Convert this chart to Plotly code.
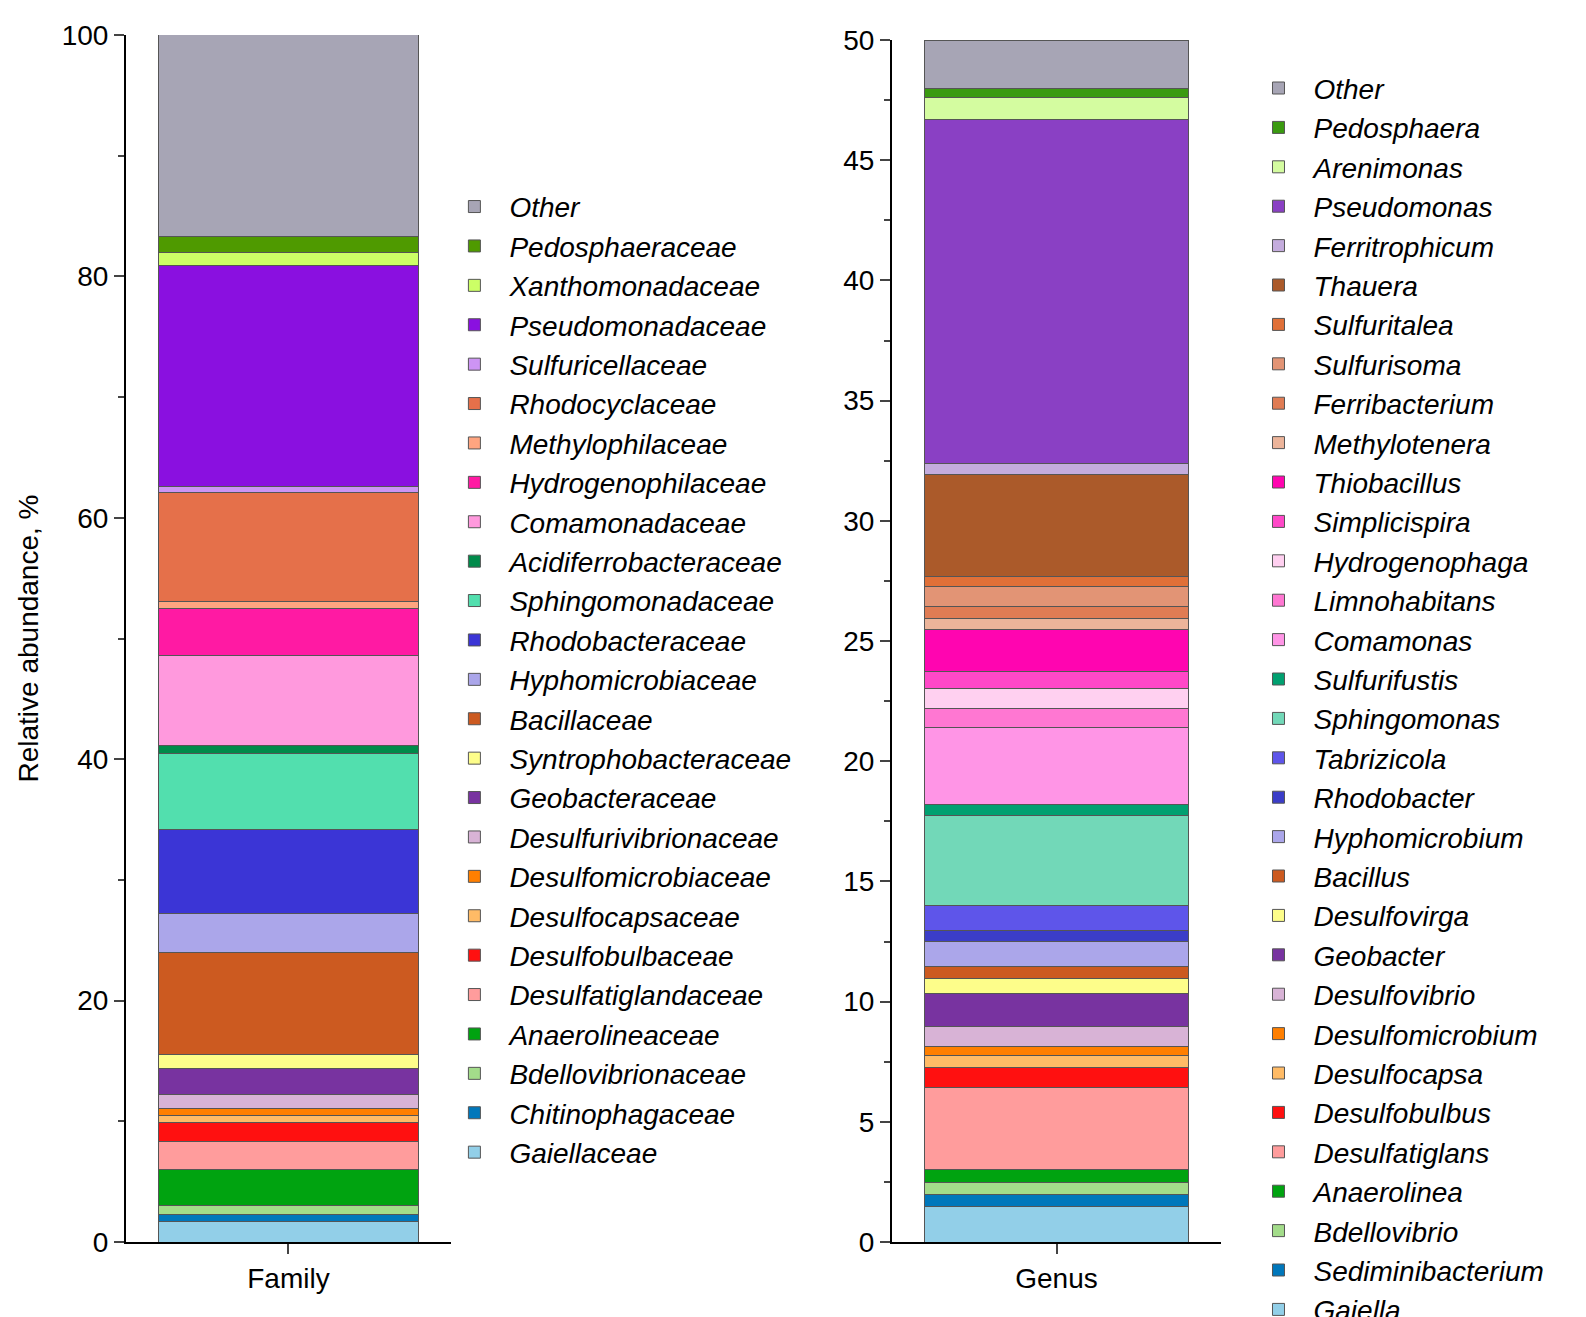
import plotly.graph_objects as go

# family: names bottom->top, cumulative top boundaries
fam_names = ['Gaiellaceae', 'Chitinophagaceae', 'Bdellovibrionaceae', 'Anaerolineaceae',
             'Desulfatiglandaceae', 'Desulfobulbaceae', 'Desulfocapsaceae', 'Desulfomicrobiaceae',
             'Desulfurivibrionaceae', 'Geobacteraceae', 'Syntrophobacteraceae', 'Bacillaceae',
             'Hyphomicrobiaceae', 'Rhodobacteraceae', 'Sphingomonadaceae', 'Acidiferrobacteraceae',
             'Comamonadaceae', 'Hydrogenophilaceae', 'Methylophilaceae', 'Rhodocyclaceae',
             'Sulfuricellaceae', 'Pseudomonadaceae', 'Xanthomonadaceae', 'Pedosphaeraceae', 'Other']
fam_tops = [1.66, 2.3, 3.0, 6.0, 8.3, 9.9, 10.5, 11.1, 12.2, 14.4, 15.5, 24.0, 27.2, 34.2,
            40.5, 41.1, 48.6, 52.5, 53.1, 62.1, 62.6, 80.9, 82.0, 83.3, 100.0]
fam_colors = ['#92cfe8', '#0077bb', '#a3dc8a', '#00a310', '#ff9c9c', '#ff1010', '#ffbb66',
              '#ff7f00', '#d8b3d6', '#7833a0', '#fdfd8a', '#cc5a20', '#aba6ea', '#3b35d6',
              '#52dfae', '#008a4a', '#ff99dd', '#ff1aa3', '#ffa580', '#e5704a', '#cd94f4',
              '#8a10e0', '#ccff66', '#4f9a00', '#a7a5b5']

gen_names = ['Gaiella', 'Sediminibacterium', 'Bdellovibrio', 'Anaerolinea', 'Desulfatiglans',
             'Desulfobulbus', 'Desulfocapsa', 'Desulfomicrobium', 'Desulfovibrio', 'Geobacter',
             'Desulfovirga', 'Bacillus', 'Hyphomicrobium', 'Rhodobacter', 'Tabrizicola',
             'Sphingomonas', 'Sulfurifustis', 'Comamonas', 'Limnohabitans', 'Hydrogenophaga',
             'Simplicispira', 'Thiobacillus', 'Methylotenera', 'Ferribacterium', 'Sulfurisoma',
             'Sulfuritalea', 'Thauera', 'Ferritrophicum', 'Pseudomonas', 'Arenimonas',
             'Pedosphaera', 'Other']
gen_tops = [1.48, 1.99, 2.47, 3.01, 6.41, 7.26, 7.74, 8.15, 8.97, 10.34, 10.96, 11.47, 12.5,
            12.95, 14.0, 17.74, 18.22, 21.41, 22.19, 23.04, 23.74, 25.48, 25.93, 26.44, 27.26,
            27.7, 31.92, 32.4, 46.7, 47.6, 48.0, 50.0]
gen_colors = ['#92cfe8', '#0077bb', '#a3dc8a', '#00a310', '#ff9c9c', '#ff1010', '#ffbb66',
              '#ff7f00', '#d8b3d6', '#7833a0', '#fdfd8a', '#cc5a20', '#aba6ea', '#3b3dc8',
              '#5e55ea', '#72d8b8', '#00a070', '#ff95e6', '#ff77d2', '#ffd0f0', '#ff48c8',
              '#ff05b0', '#ecb49a', '#e07c54', '#e29475', '#e07038', '#ab5a2a', '#c4acdd',
              '#8a40c4', '#d4fca0', '#3a9a10', '#a7a5b5']


def seg(tops):
    return [t - b for t, b in zip(tops, [0] + tops[:-1])]


fig = go.Figure()
for n, v, c in zip(fam_names, seg(fam_tops), fam_colors):
    fig.add_trace(go.Bar(x=['Family'], y=[v], name=n, marker=dict(color=c, line=dict(color='#555', width=1)),
                         width=0.8, xaxis='x', yaxis='y', legend='legend'))
for n, v, c in zip(gen_names, seg(gen_tops), gen_colors):
    fig.add_trace(go.Bar(x=['Genus'], y=[v], name=n, marker=dict(color=c, line=dict(color='#555', width=1)),
                         width=0.8, xaxis='x2', yaxis='y2', legend='legend2'))

tickfont = dict(family='Liberation Sans, Arial', size=28, color='black')
axline = dict(showline=True, linecolor='black', linewidth=2, ticks='outside', ticklen=10,
              tickwidth=2, tickfont=tickfont, showgrid=False, zeroline=False, automargin=False)
legfont = dict(family='Liberation Sans, Arial', size=28, color='black', style='italic')

fig.update_layout(
    width=1586, height=1317, barmode='stack', plot_bgcolor='white', paper_bgcolor='white',
    margin=dict(l=0, r=0, t=0, b=0, autoexpand=False), showlegend=True,
    xaxis=dict(domain=[0.0744, 0.2793], **axline),
    yaxis=dict(domain=[0.063, 0.9795], range=[0, 100], dtick=20, anchor='x',
               minor=dict(dtick=10, ticks='outside', ticklen=6, tickwidth=2),
               title=dict(text='Relative abundance, %', font=tickfont, standoff=15), **axline),
    xaxis2=dict(domain=[0.5574, 0.7648], anchor='y2', **axline),
    yaxis2=dict(domain=[0.063, 0.9757], range=[0, 50], dtick=5, anchor='x2',
                minor=dict(dtick=2.5, ticks='outside', ticklen=6, tickwidth=2), **axline),
    legend=dict(x=0.272, y=0.868, xanchor='left', yanchor='top', font=legfont,
                traceorder='reversed', itemwidth=60, tracegroupgap=0, bgcolor='rgba(0,0,0,0)'),
    legend2=dict(x=0.779, y=0.958, xanchor='left', yanchor='top', font=legfont,
                 traceorder='reversed', itemwidth=60, tracegroupgap=0, bgcolor='rgba(0,0,0,0)'),
)

fig.write_html('out.html')
